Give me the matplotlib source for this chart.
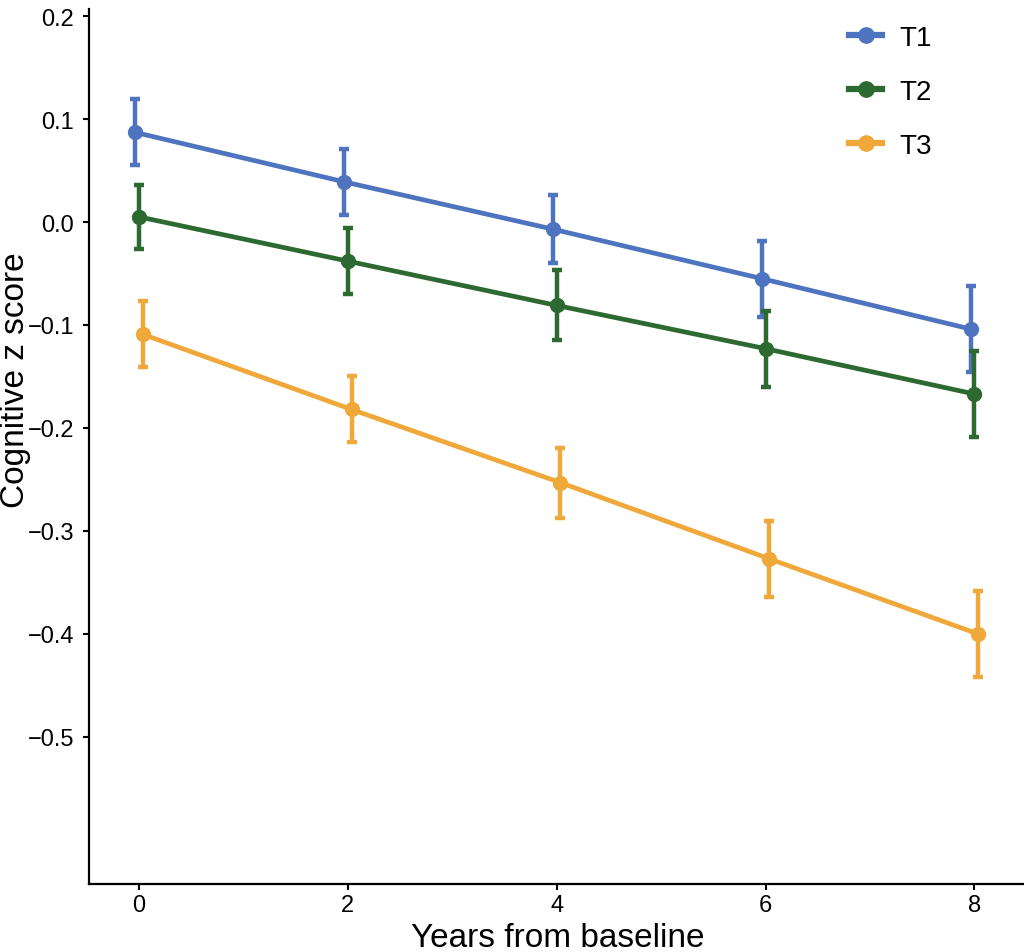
import numpy as np
import matplotlib.pyplot as plt
from matplotlib.lines import Line2D

plt.rcParams['font.family'] = ['Liberation Sans', 'DejaVu Sans']

years = np.array([0, 2, 4, 6, 8])
groups = ["T1", "T2", "T3"]
t1_mean = [0.087, 0.039, -0.007, -0.055, -0.104]
t1_err = [0.032, 0.032, 0.033, 0.037, 0.042]
t2_mean = [0.005, -0.038, -0.081, -0.123, -0.167]
t2_err = [0.031, 0.032, 0.034, 0.037, 0.042]
t3_mean = [-0.109, -0.182, -0.253, -0.327, -0.400]
t3_err = [0.032, 0.032, 0.034, 0.037, 0.042]

colors = ["#4F74BF", "#2C6A31", "#F0A83A"]
dodge = [-0.035, 0.0, 0.035]

means = [t1_mean, t2_mean, t3_mean]
errs = [t1_err, t2_err, t3_err]

fig = plt.figure(figsize=(10.24, 9.53), dpi=100)
ax = fig.add_axes([0.0874, 0.0714, 0.9126, 0.9181])

for i, g in enumerate(groups):
    ax.errorbar(years + dodge[i], means[i], yerr=errs[i], fmt='-o',
                color=colors[i], lw=3.4, ms=10, elinewidth=3.2,
                capsize=3.8, capthick=3.2, label=g, zorder=2 + i)

ax.set_xlim(-0.474, 8.474)
ax.set_ylim(-0.6427, 0.2068)
ax.set_xticks(years)
ax.set_yticks([-0.5, -0.4, -0.3, -0.2, -0.1, 0.0, 0.1, 0.2])
ax.set_yticklabels(["\u22120.5", "\u22120.4", "\u22120.3", "\u22120.2",
                    "\u22120.1", "0.0", "0.1", "0.2"])

for side in ['top', 'right']:
    ax.spines[side].set_visible(False)
for side in ['left', 'bottom']:
    ax.spines[side].set_linewidth(1.6)

ax.tick_params(axis='both', labelsize=17, length=4, width=1.5,
               colors='black')
ax.tick_params(axis='y', pad=7)
ax.tick_params(axis='x', pad=3)

ax.set_xlabel("Years from baseline", fontsize=24)
ax.set_ylabel("Cognitive z score", fontsize=24)
ax.xaxis.set_label_coords(0.501, -0.044)
ax.yaxis.set_label_coords(-0.0626, 0.577)

handles = [Line2D([], [], color=c, lw=4.5, marker='o', ms=11) for c in colors]
ax.legend(handles, groups, loc='upper left',
          bbox_to_anchor=(849 / 1024, 1 - 26 / 953),
          bbox_transform=fig.transFigure, frameon=False, fontsize=20,
          handlelength=1.2, handletextpad=0.6, labelspacing=1.0,
          borderpad=0, borderaxespad=0)

fig.savefig("out.png", dpi=100)
